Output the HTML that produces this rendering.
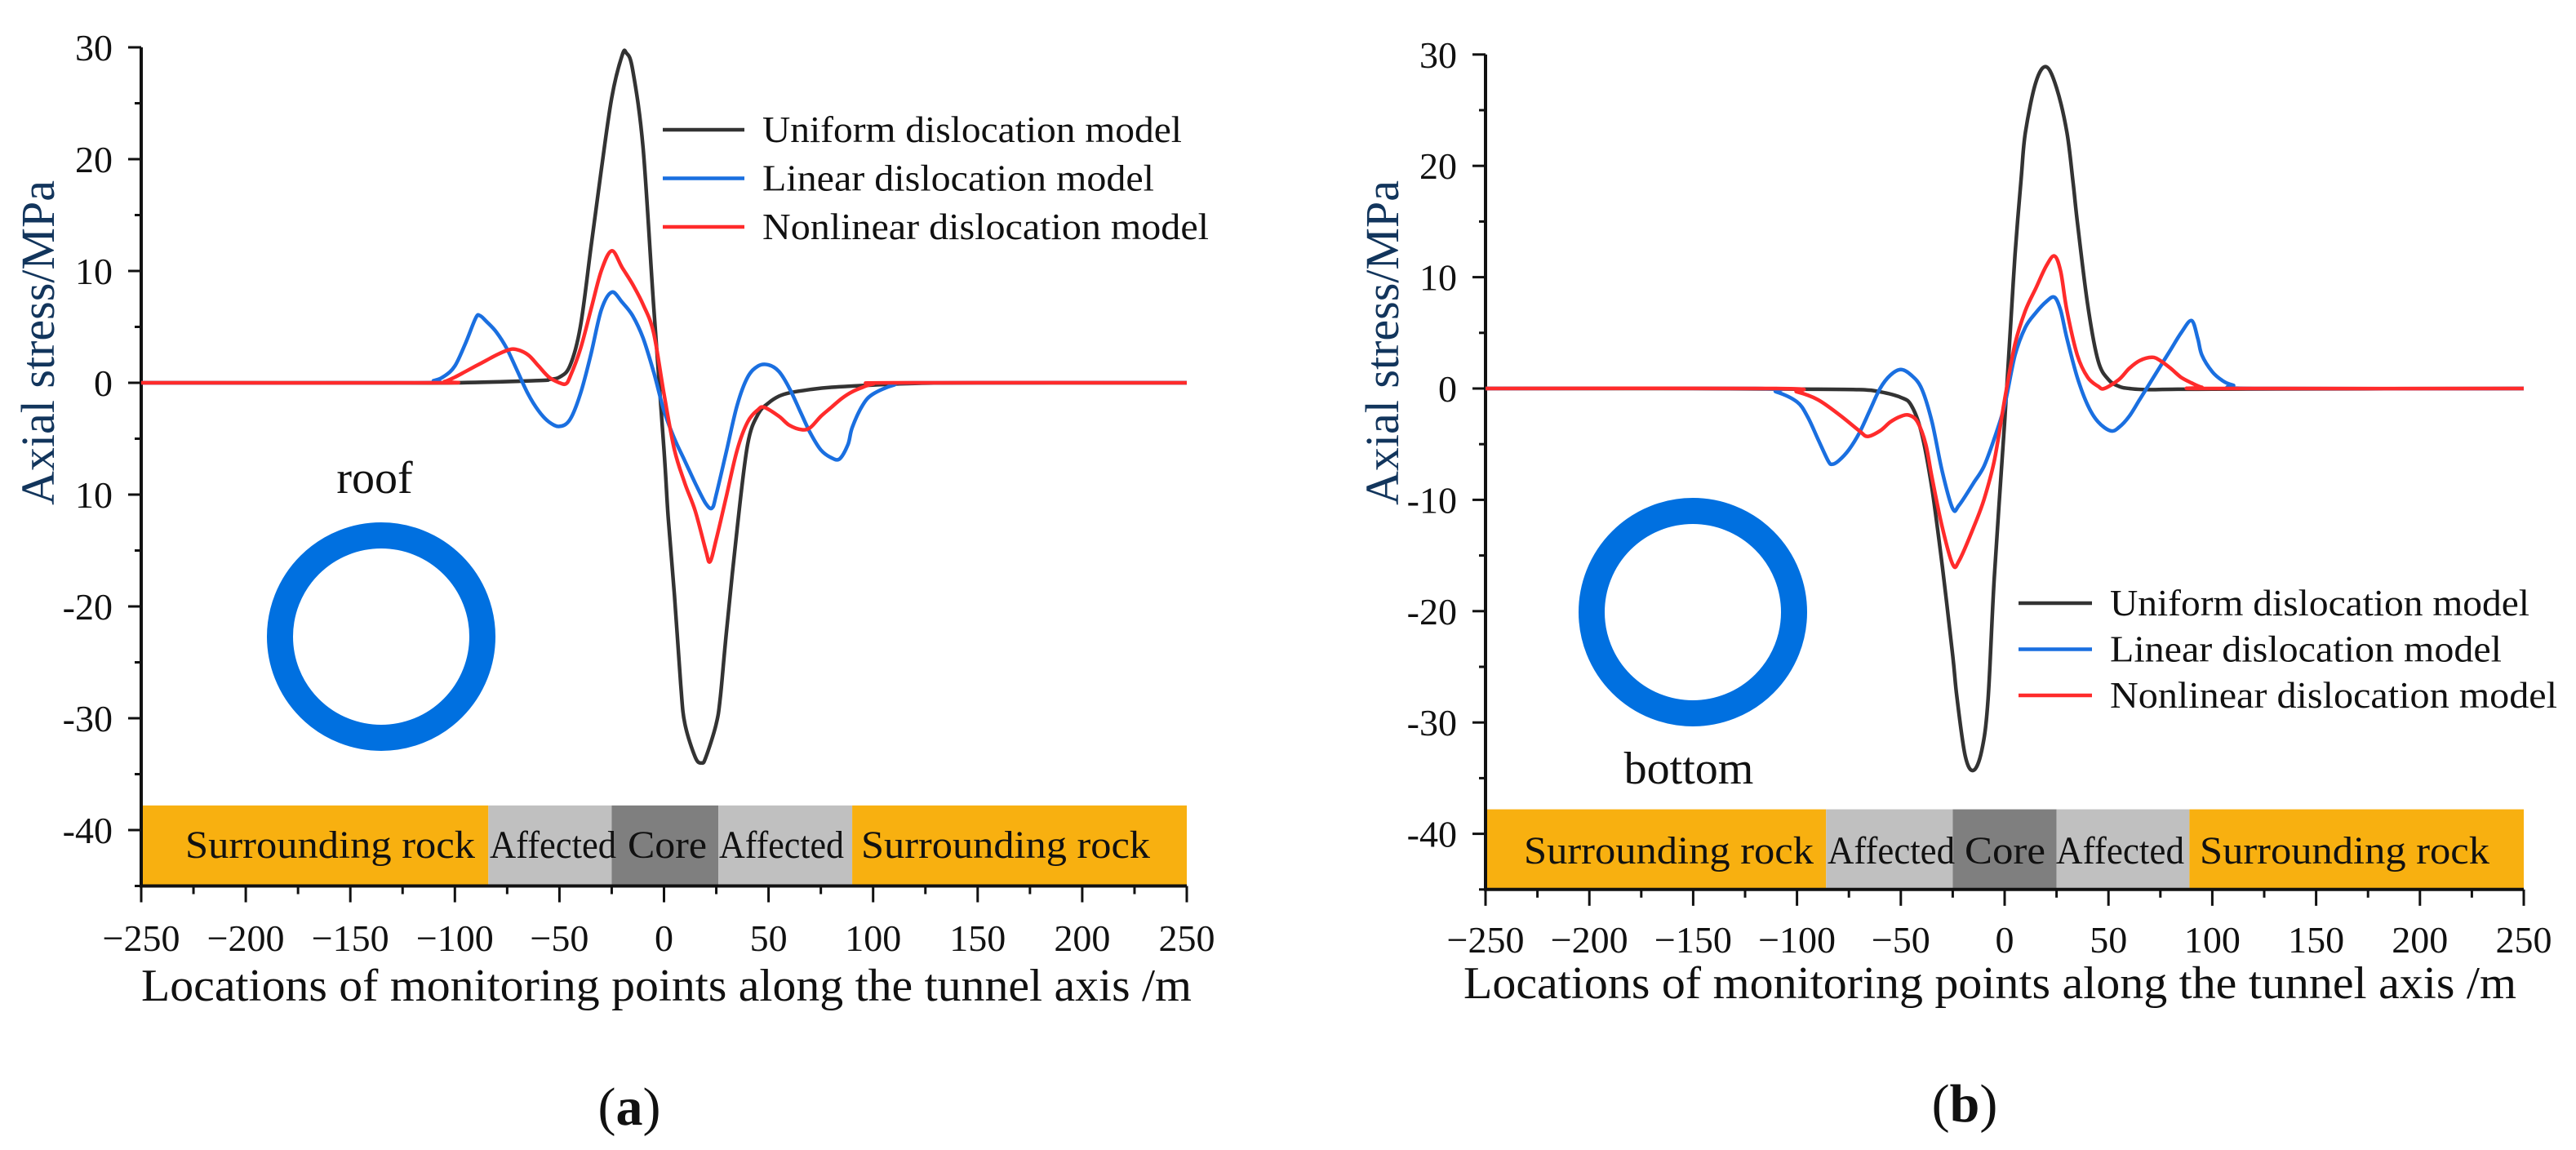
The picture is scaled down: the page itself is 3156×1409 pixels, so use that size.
<!DOCTYPE html>
<html><head><meta charset="utf-8">
<style>
html,body{margin:0;padding:0;background:#fff;}
svg{display:block;}
svg text{font-family:"Liberation Serif","Times New Roman",serif !important;}
</style></head>
<body>
<svg id="fig" width="3156" height="1409" viewBox="0 0 3156 1409" xmlns="http://www.w3.org/2000/svg" font-family="Liberation Serif, serif"></svg>
<script>
// ---------- data: panel (a) roof ----------
const uniformAX = [-250,-150,-100,-60,-55,-50,-45,-40,-35,-30,-25,-20,-18,-15,-10,-5,0,2,5,8,10,15,18,20,25,27,30,35,40,45,50,55,60,70,80,100,120,150,250];
const uniformAY = [0,0,0,0.2,0.3,0.5,1.5,5,12,19,25.5,29.3,29.5,28,21,7,-6,-12,-19,-27,-30.5,-33.5,-34,-33.5,-30.5,-28,-22,-13,-5.5,-2.8,-1.8,-1.2,-0.9,-0.6,-0.4,-0.2,-0.05,0,0];
const linearAX = [-250,-120,-110,-105,-100,-95,-90,-88,-85,-80,-75,-70,-65,-60,-55,-50,-45,-40,-35,-30,-25,-20,-15,-10,-5,0,5,10,15,20,23,25,30,35,40,45,50,55,60,65,70,75,80,84,88,90,95,100,110,120,250];
const linearAY = [0,0,0.2,0.6,1.5,3.5,5.8,6,5.5,4.5,3,1,-1,-2.5,-3.5,-3.9,-3.3,-1,2.5,6.5,8.1,7.2,6,4,1,-2.5,-5,-7,-9,-10.8,-11.2,-10,-6,-2,0.5,1.5,1.6,1,-0.5,-2.5,-4.5,-6,-6.7,-6.8,-5.5,-4,-2,-1,-0.2,0,0];
const nonlinearAX = [-250,-110,-105,-100,-95,-90,-85,-80,-75,-71,-65,-60,-55,-50,-47,-45,-40,-35,-30,-25,-20,-15,-10,-5,0,5,10,15,20,22,25,30,35,40,45,48,55,60,66,70,75,80,85,90,95,100,110,250];
const nonlinearAY = [0,0,0.1,0.5,1,1.5,2,2.5,2.9,3,2.5,1.5,0.5,0,-0.1,0.5,3,6.5,10,11.8,10.3,8.8,7,4.5,-1,-6,-9,-11.5,-15,-16,-14,-10,-6,-3.5,-2.4,-2.2,-3,-3.8,-4.2,-4,-3,-2.2,-1.4,-0.8,-0.4,-0.1,0,0];
// ---------- data: panel (b) bottom ----------
const uniformBX = [-250,-150,-100,-70,-60,-50,-45,-40,-35,-30,-25,-23,-19,-15,-11,-8,-5,0,3,5,8,10,15,20,25,30,33,35,40,45,50,55,60,70,100,250];
const uniformBY = [0,0,-0.05,-0.1,-0.3,-0.8,-1.5,-4,-9,-16,-24,-27.7,-33,-34.3,-32.5,-28,-17,-3,6,12,19,23,27.5,28.9,27,23,18.4,15,7.5,2.5,0.8,0.2,0,-0.1,-0.05,0];
const linearBX = [-250,-120,-110,-100,-95,-90,-85,-83,-80,-75,-70,-65,-60,-55,-50,-45,-40,-35,-30,-25,-22,-15,-10,-5,0,5,10,15,20,24,27,30,35,40,45,51,55,60,65,70,75,80,85,90,93,95,100,105,110,120,250];
const linearBY = [0,0,-0.3,-1.2,-2.5,-4.5,-6.5,-6.8,-6.5,-5.5,-4,-2,0,1.2,1.7,1.2,0,-3,-7.5,-10.8,-10.5,-8.5,-7,-4.5,-1.5,3,5.5,6.8,7.8,8.2,7,4.5,1,-1.5,-3,-3.8,-3.5,-2.5,-1,0.5,2,3.5,5,6.1,4.5,3,1.5,0.7,0.3,0,0];
const nonlinearBX = [-250,-110,-100,-90,-80,-70,-66,-60,-55,-50,-46,-42,-38,-35,-30,-25,-22,-15,-10,-5,0,5,10,15,20,24,27,30,35,40,45,48,55,60,65,71,75,80,85,90,95,100,250];
const nonlinearBY = [0,0,-0.3,-1,-2.3,-3.8,-4.3,-3.8,-3,-2.5,-2.4,-3,-5,-8,-12.5,-15.8,-15.5,-12.5,-10,-6.5,-1,4,7,9,11,11.9,10.5,7,3,1,0.2,0,0.8,1.8,2.5,2.8,2.5,1.8,1,0.5,0.1,0,0];
// ---------- ticks & labels ----------
const xTicks = [-250,-200,-150,-100,-50,0,50,100,150,200,250];
const xTickLabels = ["\u2212250","\u2212200","\u2212150","\u2212100","\u221250","0","50","100","150","200","250"];
const yTicks = [30,20,10,0,-10,-20,-30,-40];
const yTickLabelsA = ["30","20","10","0","10","-20","-30","-40"];
const yTickLabelsB = ["30","20","10","0","-10","-20","-30","-40"];
const seriesNames = ["Uniform dislocation model","Linear dislocation model","Nonlinear dislocation model"];
const zoneNames = ["Surrounding rock","Affected","Core","Affected","Surrounding rock"];
const zoneBoundsA = [-250,-84,-25,26,90,250];
const zoneBoundsB = [-250,-86,-25,25,89,250];

const NS="http://www.w3.org/2000/svg";
const FONT="Liberation Serif, Times New Roman, serif";
const svg=document.getElementById('fig');
function mk(tag,attrs,parent){const e=document.createElementNS(NS,tag);for(const k in attrs)e.setAttribute(k,attrs[k]);if(tag==='text')e.setAttribute('font-family',FONT);(parent||svg).appendChild(e);return e;}
function smooth(pts){let d='M'+pts[0][0].toFixed(1)+','+pts[0][1].toFixed(1);
 for(let i=0;i<pts.length-1;i++){const p0=pts[Math.max(0,i-1)],p1=pts[i],p2=pts[i+1],p3=pts[Math.min(pts.length-1,i+2)];
  const c1=[p1[0]+(p2[0]-p0[0])/6,p1[1]+(p2[1]-p0[1])/6],c2=[p2[0]-(p3[0]-p1[0])/6,p2[1]-(p3[1]-p1[1])/6];
  d+=' C'+c1[0].toFixed(1)+','+c1[1].toFixed(1)+' '+c2[0].toFixed(1)+','+c2[1].toFixed(1)+' '+p2[0].toFixed(1)+','+p2[1].toFixed(1);}
 return d;}
const colors=["#333333","#1a6fe0","#ff2b2b"];
const zoneColors=["#f8b010","#c0c0c0","#7f7f7f","#c0c0c0","#f8b010"];

function panel(P){
 const g=mk('g',{});
 
 
 const X=v=>P.x0+(v+250)*(P.x1-P.x0)/500;
 const Y=v=>P.y0-v*P.k;
 const zt=Y(-37.8), zb=Y(-45);
 for(let i=0;i<5;i++){
  const r=mk('rect',{x:X(P.zb[i]),y:zt,width:X(P.zb[i+1])-X(P.zb[i]),height:zb-zt,fill:zoneColors[i]},g);
  
  
 }
 for(let i=0;i<5;i++){
  const t=mk('text',{x:P.zt[i][0],y:P.zbase,'font-size':48,fill:'#111',textLength:P.zt[i][1]-P.zt[i][0],lengthAdjust:'spacingAndGlyphs'},g);
  t.textContent=zoneNames[i];
  
  
 }
 const ax=mk('path',{d:`M${X(-250)},${Y(30)} L${X(-250)},${Y(-45)} L${X(250)},${Y(-45)}`,stroke:'#111',fill:'none','stroke-width':4},g);
 
 
 for(let v=30;v>=-45;v-=5){const maj=v%10===0;mk('line',{x1:X(-250),x2:X(-250)-(maj?16:8),y1:Y(v),y2:Y(v),stroke:'#111','stroke-width':3},g);}
 for(let v=-250;v<=250;v+=25){const maj=v%50===0;mk('line',{x1:X(v),x2:X(v),y1:Y(-45),y2:Y(-45)+(maj?20:10),stroke:'#111','stroke-width':3},g);}
 yTicks.forEach((v,i)=>{const t=mk('text',{x:P.ylabR,y:Y(v)+16,'font-size':46,'text-anchor':'end',fill:'#111'},g);t.textContent=P.ylabs[i];
  
  });
 xTicks.forEach((v,i)=>{const t=mk('text',{x:X(v),y:P.xlabBase,'font-size':46,'text-anchor':'middle',fill:'#111'},g);t.textContent=xTickLabels[i];
  
  });
 const xt=mk('text',{x:P.xtitle[0],y:P.xtitle[2],'font-size':56,fill:'#111',textLength:P.xtitle[1]-P.xtitle[0],lengthAdjust:'spacingAndGlyphs'},g);
 xt.textContent='Locations of monitoring points along the tunnel axis /m';
 
 
 const yt=mk('text',{x:0,y:0,'font-size':58,fill:'#12355c','text-anchor':'middle',transform:`translate(${P.ytx},${P.yty}) rotate(-90)`},g);
 yt.textContent='Axial stress/MPa';
 
 
 const ring=mk('circle',{cx:P.ring[0],cy:P.ring[1],r:124,fill:'none',stroke:'#0070e0','stroke-width':32},g);
 
 
 const rl=mk('text',{x:P.ringLab[0],y:P.ringLab[1],'font-size':56,'text-anchor':'middle',fill:'#111'},g);
 rl.textContent=P.ringText;
 
 
 P.series.forEach((s,i)=>{
  const pts=s[0].map((xv,j)=>[X(xv),Y(s[1][j])]);
  const p=mk('path',{d:smooth(pts),fill:'none',stroke:colors[i],'stroke-width':4.5,'stroke-linejoin':'round'},g);
  
  
 });
 seriesNames.forEach((n,i)=>{
  const yy=P.leg[2]+i*P.leg[3];
  const l=mk('line',{x1:P.leg[0],x2:P.leg[1],y1:yy,y2:yy,stroke:colors[i],'stroke-width':4.5},g);
  
  
  const t=mk('text',{x:P.leg[1]+22,y:yy+15,'font-size':46,fill:'#111',textLength:P.legW[i],lengthAdjust:'spacingAndGlyphs'},g);
  t.textContent=n;
  
  
 });
 const pl=mk('text',{x:P.plab[0],y:P.plab[1],'font-size':66,'text-anchor':'middle',fill:'#111'},g);
 pl.innerHTML='(<tspan font-weight="bold">'+P.plabT+'</tspan>)';
 
 
}

panel({id:'panel-a',x0:173,x1:1454,y0:469,k:13.7,zb:zoneBoundsA,
 zt:[[227,582],[600,755],[769,866],[881,1034],[1055,1409]],zbase:1051,
 ylabR:138,ylabs:yTickLabelsA,xlabBase:1165,xtitle:[173,1460,1226],ytx:66,yty:420,
 ring:[467,780],ringLab:[459,604],ringText:'roof',
 series:[[uniformAX,uniformAY],[linearAX,linearAY],[nonlinearAX,nonlinearAY]],
 leg:[812,912,159,59.5],legW:[514,480,547],plab:[771,1378],plabT:'a'});
panel({id:'panel-b',x0:1820,x1:3092,y0:476,k:13.64,zb:zoneBoundsB,
 zt:[[1867,2222],[2239,2395],[2407,2506],[2519,2676],[2695,3050]],zbase:1058,
 ylabR:1785,ylabs:yTickLabelsB,xlabBase:1167,xtitle:[1793,3083,1223],ytx:1713,yty:420,
 ring:[2074,750],ringLab:[2069,960],ringText:'bottom',
 series:[[uniformBX,uniformBY],[linearBX,linearBY],[nonlinearBX,nonlinearBY]],
 leg:[2473,2563,739,56.5],legW:[514,480,548],plab:[2407,1374],plabT:'b'});
</script>
</body></html>
